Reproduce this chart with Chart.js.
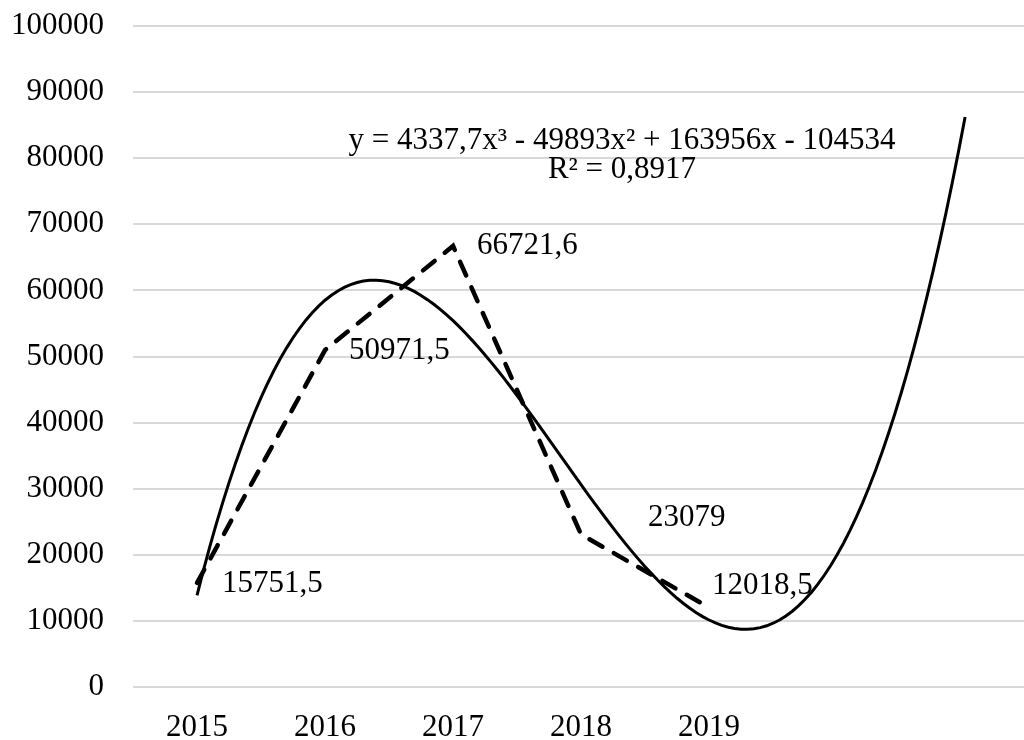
<!DOCTYPE html>
<html>
<head>
<meta charset="utf-8">
<script src="https://cdn.jsdelivr.net/npm/chart.js@4.4.1/dist/chart.umd.min.js"></script>
<style>
  html, body { margin: 0; padding: 0; background: #ffffff; }
  #wrap { width: 1024px; height: 740px; position: relative; }
</style>
</head>
<body>
<div id="wrap"><canvas id="chart"></canvas></div>
<script>
// Years on the category axis and the yearly values
const years = ['2015', '2016', '2017', '2018', '2019'];
const values = [15751.5, 50971.5, 66721.6, 23079, 12018.5];

// Cubic trend: y = c3*x^3 + c2*x^2 + c1*x + c0, x = 1..7 (two periods forward)
const trendCoefs = [4337.7, -49893, 163956, -104534];
const trendLabel = ['y = 4337,7x³ - 49893x² + 163956x - 104534', 'R² = 0,8917'];

// y-axis range
const yTicks = [0, 10000, 20000, 30000, 40000, 50000, 60000, 70000, 80000, 90000, 100000];

const FONT = '"Liberation Serif", "Times New Roman", serif';

const dataPoints = values.map((v, i) => ({ x: i + 1, y: v }));

const trendPoints = [];
for (let k = 0; k <= 120; k++) {
  const x = 1 + k * 0.05;
  const [c3, c2, c1, c0] = trendCoefs;
  trendPoints.push({ x: x, y: ((c3 * x + c2) * x + c1) * x + c0 });
}

// Value labels beside each point, plus the trend equation box
const labelPlugin = {
  id: 'valueLabels',
  afterDatasetsDraw(chart, args, opts) {
    const ctx = chart.ctx;
    const meta = chart.getDatasetMeta(0);
    ctx.save();
    ctx.font = '31px ' + FONT;
    ctx.fillStyle = '#000000';
    ctx.textAlign = 'left';
    ctx.textBaseline = 'middle';
    meta.data.forEach((pt, i) => {
      const off = opts.offsets[i] || [24, 0];
      const txt = String(values[i]).replace('.', ',');
      ctx.fillText(txt, pt.x + off[0], pt.y + off[1]);
    });
    // trend equation, centred lines
    ctx.textAlign = 'center';
    ctx.fillText(trendLabel[0], opts.eqX, opts.eqY);
    ctx.fillText(trendLabel[1], opts.eqX, opts.eqY + 29);
    ctx.restore();
  }
};

new Chart(document.getElementById('chart'), {
  type: 'line',
  data: {
    datasets: [
      {
        label: 'values',
        data: dataPoints,
        borderColor: '#000000',
        borderWidth: 4.5,
        borderDash: [15, 13],
        borderCapStyle: 'round',
        pointRadius: 0,
        tension: 0,
        fill: false
      },
      {
        label: 'trend',
        data: trendPoints,
        borderColor: '#000000',
        borderWidth: 3,
        pointRadius: 0,
        tension: 0,
        fill: false
      }
    ]
  },
  options: {
    responsive: true,
    maintainAspectRatio: false,
    animation: false,
    layout: { padding: { top: 26, right: 0, bottom: 0, left: 0 } },
    plugins: {
      legend: { display: false },
      tooltip: { enabled: false },
      valueLabels: {
        offsets: [[25, 1], [24, 1], [24, 0], [67, -17], [3, -22]],
        eqX: 622,
        eqY: 141
      }
    },
    scales: {
      x: {
        type: 'linear',
        min: 0.5,
        max: 7.46,
        grid: { display: false },
        border: { display: false },
        afterBuildTicks(scale) {
          scale.ticks = years.map((_, i) => ({ value: i + 1 }));
        },
        afterFit(scale) {
          scale.height = 53;
          scale.paddingLeft = 0;
          scale.paddingRight = 0;
        },
        ticks: {
          autoSkip: false,
          maxRotation: 0,
          padding: 14,
          color: '#000000',
          font: { family: FONT, size: 31 },
          callback: (v) => years[v - 1]
        }
      },
      y: {
        min: 0,
        max: 100000,
        afterBuildTicks(scale) {
          scale.ticks = yTicks.map(v => ({ value: v }));
        },
        afterFit(scale) {
          scale.width = 133;
          scale.paddingTop = 0;
          scale.paddingBottom = 0;
        },
        grid: { color: '#d9d9d9', lineWidth: 2, drawTicks: false },
        border: { display: false },
        ticks: {
          padding: 29,
          color: '#000000',
          font: { family: FONT, size: 31 },
          callback: (v) => String(v)
        }
      }
    }
  },
  plugins: [labelPlugin]
});
</script>
</body>
</html>
